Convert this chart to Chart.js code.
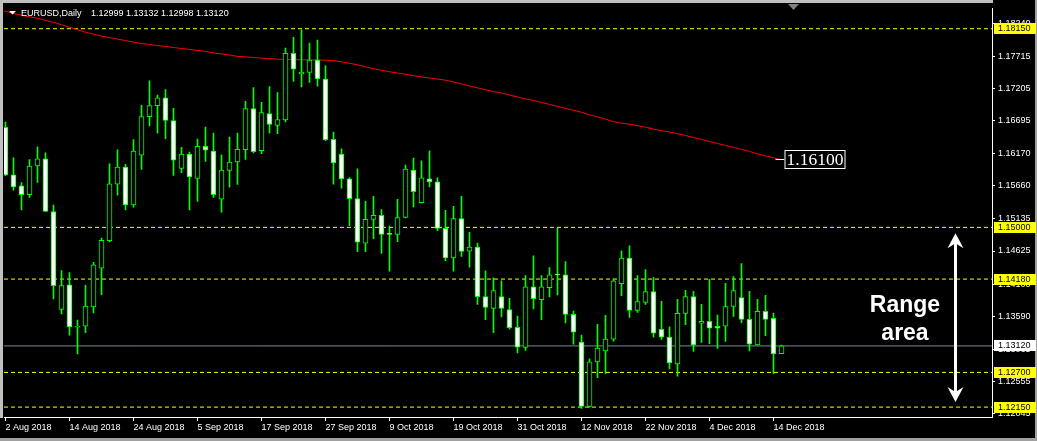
<!DOCTYPE html>
<html>
<head>
<meta charset="utf-8">
<title>EURUSD,Daily</title>
<script src="https://cdn.jsdelivr.net/npm/chart.js@4.4.1/dist/chart.umd.min.js"></script>
<style>
  html, body { margin: 0; padding: 0; background: #000; overflow: hidden; }
  canvas { display: block; }
</style>
</head>
<body>
<canvas id="chart" width="1037" height="441"></canvas>
<script>
// Daily candles EURUSD, 2 Aug 2018 -> 17 Dec 2018 (one per trading day)
const openP = [
  1.16585, 1.15832, 1.15659, 1.15518, 1.15973, 1.16087, 1.15251, 1.13698, 1.14090, 1.13416,
  1.13432, 1.13739, 1.14351, 1.14790, 1.15684, 1.15957, 1.15355, 1.16145, 1.16757, 1.16930,
  1.17055, 1.16694, 1.15935, 1.16161, 1.15778, 1.16286, 1.16208, 1.15449, 1.15904, 1.16036,
  1.16233, 1.16883, 1.16218, 1.16804, 1.16616, 1.16704, 1.17761, 1.17432, 1.17457, 1.17651,
  1.17353, 1.16396, 1.16161, 1.15769, 1.15455, 1.14749, 1.15126, 1.15189, 1.14890, 1.14890,
  1.15157, 1.15910, 1.15392, 1.15769, 1.15722, 1.14985, 1.14514, 1.15141, 1.14624, 1.14687,
  1.13902, 1.13714, 1.13902, 1.13698, 1.13416, 1.13096, 1.14059, 1.13855, 1.14043, 1.14247,
  1.14247, 1.13620, 1.13181, 1.12161, 1.12867, 1.13040, 1.13228, 1.14106, 1.14514, 1.13683,
  1.13808, 1.13981, 1.13385, 1.13259, 1.12836, 1.13636, 1.13902, 1.13479, 1.13510, 1.13432,
  1.13432, 1.13745, 1.13887, 1.13541, 1.13134, 1.13667, 1.13557, 1.12999
];
const highP = [
  1.16668, 1.16103, 1.15711, 1.16076, 1.16276, 1.16181, 1.15355, 1.14315, 1.14283, 1.13530,
  1.14080, 1.14445, 1.14832, 1.16009, 1.16228, 1.15998, 1.16390, 1.16934, 1.17322, 1.17096,
  1.17185, 1.16887, 1.16271, 1.16192, 1.16401, 1.16589, 1.16495, 1.16150, 1.16432, 1.16495,
  1.16997, 1.17217, 1.16981, 1.17232, 1.17138, 1.17844, 1.18012, 1.18131, 1.17923, 1.17970,
  1.17562, 1.16511, 1.16244, 1.15789, 1.15930, 1.15413, 1.15491, 1.15283, 1.15021, 1.15444,
  1.15988, 1.16098, 1.16056, 1.16213, 1.15785, 1.15272, 1.15334, 1.15491, 1.14922, 1.14749,
  1.14310, 1.14200, 1.14153, 1.13876, 1.13593, 1.14236, 1.14550, 1.14236, 1.14362, 1.14985,
  1.14456, 1.13672, 1.13290, 1.12914, 1.13463, 1.13604, 1.14185, 1.14628, 1.14707, 1.14236,
  1.14331, 1.14205, 1.13829, 1.13421, 1.13860, 1.14001, 1.13985, 1.13781, 1.14174, 1.13609,
  1.14111, 1.14221, 1.14425, 1.13985, 1.13860, 1.13923, 1.13640, 1.13132
];
const lowP = [
  1.15821, 1.15590, 1.15276, 1.15476, 1.15711, 1.15248, 1.13865, 1.13629, 1.13290, 1.12992,
  1.13331, 1.13645, 1.13934, 1.14770, 1.15512, 1.15276, 1.15319, 1.15919, 1.16610, 1.16495,
  1.16406, 1.15825, 1.15868, 1.15276, 1.15413, 1.16045, 1.15476, 1.15240, 1.15637, 1.15679,
  1.16076, 1.16181, 1.16170, 1.16495, 1.16484, 1.16672, 1.17316, 1.17228, 1.17300, 1.17237,
  1.16374, 1.15684, 1.15621, 1.15025, 1.14613, 1.14613, 1.14821, 1.14586, 1.14304, 1.14774,
  1.15150, 1.15323, 1.15385, 1.15643, 1.14947, 1.14472, 1.14304, 1.14539, 1.14367, 1.13777,
  1.13535, 1.13331, 1.13578, 1.13385, 1.13008, 1.13049, 1.13708, 1.13535, 1.13896, 1.13927,
  1.13483, 1.13149, 1.12130, 1.12150, 1.12616, 1.12679, 1.13196, 1.13918, 1.13573, 1.13651,
  1.13777, 1.13259, 1.13222, 1.12757, 1.12641, 1.13457, 1.13033, 1.13174, 1.13154, 1.13080,
  1.13190, 1.13589, 1.13488, 1.13040, 1.13130, 1.13284, 1.12679, 1.12998
];
const closeP = [
  1.15832, 1.15643, 1.15518, 1.15973, 1.16087, 1.15251, 1.14075, 1.14075, 1.13421, 1.13432,
  1.13750, 1.14404, 1.14796, 1.15690, 1.15957, 1.15355, 1.16208, 1.16757, 1.16930, 1.17055,
  1.16694, 1.16067, 1.16161, 1.15800, 1.16286, 1.16224, 1.15518, 1.15910, 1.16036, 1.16239,
  1.16883, 1.16202, 1.16820, 1.16632, 1.16710, 1.17761, 1.17510, 1.17463, 1.17651, 1.17353,
  1.16390, 1.16020, 1.15769, 1.15455, 1.14765, 1.15126, 1.15189, 1.14890, 1.14888, 1.15157,
  1.15926, 1.15565, 1.15785, 1.15722, 1.14985, 1.14514, 1.15141, 1.14618, 1.14687, 1.13902,
  1.13730, 1.13996, 1.13714, 1.13410, 1.13102, 1.14059, 1.13871, 1.14059, 1.14247, 1.14245,
  1.13620, 1.13338, 1.12161, 1.12867, 1.13087, 1.13228, 1.14153, 1.14514, 1.13683, 1.13824,
  1.13981, 1.13322, 1.13259, 1.12851, 1.13636, 1.13902, 1.13134, 1.13510, 1.13400, 1.13400,
  1.13745, 1.13996, 1.13541, 1.13149, 1.13667, 1.13541, 1.12992, 1.13120
];

// red moving average, first value belongs to the bar just left of 2 Aug
const maFirst = -1;
const maValues = [
  1.18472, 1.18425, 1.18393, 1.18362, 1.18338, 1.18315, 1.18283, 1.18252, 1.18213, 1.18174,
  1.18134, 1.18095, 1.18064, 1.18032, 1.18009, 1.17985, 1.17962, 1.17938, 1.17915, 1.17899,
  1.17883, 1.17868, 1.17852, 1.17836, 1.17821, 1.17805, 1.17789, 1.17766, 1.17750, 1.17734,
  1.17711, 1.17703, 1.17695, 1.17683, 1.17675, 1.17667, 1.17662, 1.17659, 1.17658, 1.17656,
  1.17656, 1.17651, 1.17643, 1.17625, 1.17601, 1.17578, 1.17546, 1.17515, 1.17491, 1.17468,
  1.17447, 1.17428, 1.17405, 1.17385, 1.17369, 1.17353, 1.17334, 1.17306, 1.17275, 1.17243,
  1.17212, 1.17181, 1.17154, 1.17130, 1.17099, 1.17068, 1.17036, 1.17013, 1.16981, 1.16950,
  1.16919, 1.16887, 1.16856, 1.16825, 1.16785, 1.16754, 1.16715, 1.16676, 1.16652, 1.16636,
  1.16613, 1.16589, 1.16558, 1.16534, 1.16511, 1.16487, 1.16456, 1.16425, 1.16393, 1.16362,
  1.16330, 1.16299, 1.16268, 1.16236, 1.16205, 1.16166, 1.16134, 1.16103, 1.16072
];
const maLabel = '1.16100';

// horizontal levels
const levels = [1.18150, 1.15000, 1.14180, 1.12700, 1.12150];
const bidLevel = 1.13120;

// axes
const tickStep = 8;
const tickLabels = ['2 Aug 2018', '14 Aug 2018', '24 Aug 2018', '5 Sep 2018', '17 Sep 2018',
  '27 Sep 2018', '9 Oct 2018', '19 Oct 2018', '31 Oct 2018', '12 Nov 2018', '22 Nov 2018',
  '4 Dec 2018', '14 Dec 2018'];
const priceTicks = [1.18240, 1.17715, 1.17205, 1.16695, 1.16170, 1.15660, 1.15135,
  1.14625, 1.14100, 1.13590, 1.13065, 1.12555, 1.12045];

const headerName = 'EURUSD,Daily';
const headerPrices = '1.12999 1.13132 1.12998 1.13120';
const rangeText = ['Range', 'area'];

const xMin = -0.1875, xMax = 123.3125;
const yMin = 1.11993, yMax = 1.18472;
const lime = '#00ff00';
const axisFont = { family: 'Liberation Sans', size: 9 };

const overlay = {
  id: 'overlay',
  beforeDraw(chart) {
    const c = chart.ctx;
    c.save();
    c.fillStyle = '#000';
    c.fillRect(0, 0, chart.width, chart.height);
    c.restore();
  },
  afterDraw(chart) {
    const c = chart.ctx, a = chart.chartArea;
    const xs = chart.scales.x, ys = chart.scales.y;
    c.save();

    // window frame
    c.fillStyle = '#c0c0c0';
    c.fillRect(0, 0, a.right + 1, 3);
    c.fillRect(0, 0, 3, a.bottom + 1);
    c.fillStyle = '#a0a0a0';
    c.fillRect(0, chart.height - 3, chart.width, 3);
    c.fillRect(chart.width - 2, 0, 2, chart.height);

    // header
    c.fillStyle = '#fff';
    c.beginPath();
    c.moveTo(9, 11); c.lineTo(16, 11); c.lineTo(12.5, 14.5); c.closePath();
    c.fill();
    c.font = '9px "Liberation Sans"';
    c.textBaseline = 'alphabetic';
    c.textAlign = 'left';
    c.fillText(headerName, 21, 15.5);
    c.fillText(headerPrices, 91, 15.5);

    // shift marker
    c.fillStyle = '#808080';
    c.beginPath();
    c.moveTo(788, 4); c.lineTo(799, 4); c.lineTo(793.5, 10); c.closePath();
    c.fill();

    // price boxes on the right axis
    c.textBaseline = 'middle';
    const box = (v, bg) => {
      const py = Math.floor(ys.getPixelForValue(v));
      c.fillStyle = bg;
      c.fillRect(a.right + 2, py - 5, 42, 11);
      c.fillStyle = '#000';
      c.fillText(v.toFixed(5), a.right + 6, py + 0.5);
    };
    levels.forEach(v => box(v, '#ffff00'));
    box(bidLevel, '#ffffff');

    // MA value label
    const lx = xs.getPixelForValue(openP.length - 1);
    const ly = Math.round(ys.getPixelForValue(maValues[maValues.length - 1]));
    c.strokeStyle = '#fff';
    c.lineWidth = 1;
    c.beginPath();
    c.moveTo(lx - 6, ly - 0.5); c.lineTo(lx + 3, ly - 0.5);
    c.stroke();
    c.fillStyle = '#000';
    c.fillRect(lx + 3, ly - 10, 61, 19);
    c.strokeRect(lx + 3.5, ly - 9.5, 60, 18);
    c.fillStyle = '#fff';
    c.font = '17.5px "Liberation Serif"';
    c.fillText(maLabel, lx + 5, ly + 0.5);

    // range annotation
    c.font = 'bold 23px "Liberation Sans"';
    c.textAlign = 'center';
    c.textBaseline = 'alphabetic';
    c.fillText(rangeText[0], a.right - 87, 312);
    c.fillText(rangeText[1], a.right - 87, 340);

    const ax = a.right - 36.5;
    const top = ys.getPixelForValue(levels[1]) + 6;
    const bot = ys.getPixelForValue(levels[4]) - 5;
    c.strokeStyle = '#fff';
    c.lineWidth = 3;
    c.beginPath();
    c.moveTo(ax, top + 6); c.lineTo(ax, bot - 6);
    c.stroke();
    c.fillStyle = '#fff';
    c.beginPath();
    c.moveTo(ax, top); c.lineTo(ax + 8, top + 15); c.lineTo(ax, top + 10); c.lineTo(ax - 8, top + 15);
    c.closePath(); c.fill();
    c.beginPath();
    c.moveTo(ax, bot); c.lineTo(ax + 8, bot - 15); c.lineTo(ax, bot - 10); c.lineTo(ax - 8, bot - 15);
    c.closePath(); c.fill();

    c.restore();
  }
};

function levelSet(v, color, dash) {
  return {
    type: 'line',
    data: [{ x: xMin, y: v }, { x: xMax, y: v }],
    borderColor: color,
    borderWidth: 1,
    borderDash: dash,
    pointRadius: 0,
    order: 3
  };
}

function createChart() {
  const ctx = document.getElementById('chart').getContext('2d');
  new Chart(ctx, {
    type: 'bar',
    data: {
      datasets: [
        {
          label: 'body',
          data: openP.map((o, i) => ({ x: i, y: [o, closeP[i]] })),
          backgroundColor: c => (c.dataIndex !== undefined && closeP[c.dataIndex] > openP[c.dataIndex]) ? '#000000' : '#ffffff',
          borderColor: lime,
          borderWidth: 1,
          borderSkipped: false,
          barThickness: 5,
          minBarLength: 1,
          grouped: false,
          order: 0
        },
        {
          label: 'wick',
          data: lowP.map((l, i) => ({ x: i, y: [l, highP[i]] })),
          backgroundColor: lime,
          borderWidth: 0,
          barThickness: 1,
          grouped: false,
          order: 1
        },
        {
          type: 'line',
          label: 'MA',
          data: maValues.map((v, k) => ({ x: k + maFirst, y: v })),
          borderColor: '#ff0000',
          borderWidth: 1,
          pointRadius: 0,
          tension: 0,
          order: 2
        },
        ...levels.map(v => levelSet(v, '#ffff00', [4, 3])),
        levelSet(bidLevel, '#778899', [])
      ]
    },
    options: {
      responsive: false,
      devicePixelRatio: 1,
      animation: false,
      events: [],
      layout: { padding: { left: 4, top: 4, right: 0, bottom: 0 } },
      plugins: { legend: { display: false }, tooltip: { enabled: false } },
      scales: {
        x: {
          type: 'linear',
          min: xMin,
          max: xMax,
          offset: false,
          grid: { drawOnChartArea: false, tickLength: 4, tickColor: '#ffffff', offset: false },
          border: { display: true, color: '#ffffff', width: 1 },
          ticks: {
            color: '#ffffff',
            font: axisFont,
            align: 'start',
            maxRotation: 0,
            autoSkip: false,
            padding: 1,
            callback: v => tickLabels[Math.round(v / tickStep)] || ''
          },
          afterBuildTicks: s => { s.ticks = tickLabels.map((_, k) => ({ value: k * tickStep })); },
          afterFit: s => { s.height = 24; }
        },
        y: {
          type: 'linear',
          position: 'right',
          min: yMin,
          max: yMax,
          grid: { drawOnChartArea: false, tickLength: 3, tickColor: '#ffffff' },
          border: { display: true, color: '#ffffff', width: 1 },
          ticks: {
            color: '#ffffff',
            font: axisFont,
            padding: 3,
            autoSkip: false,
            callback: v => v.toFixed(5)
          },
          afterBuildTicks: s => { s.ticks = priceTicks.map(v => ({ value: v })); },
          afterFit: s => { s.width = 45; }
        }
      }
    },
    plugins: [overlay]
  });
}

createChart();
</script>
</body>
</html>
